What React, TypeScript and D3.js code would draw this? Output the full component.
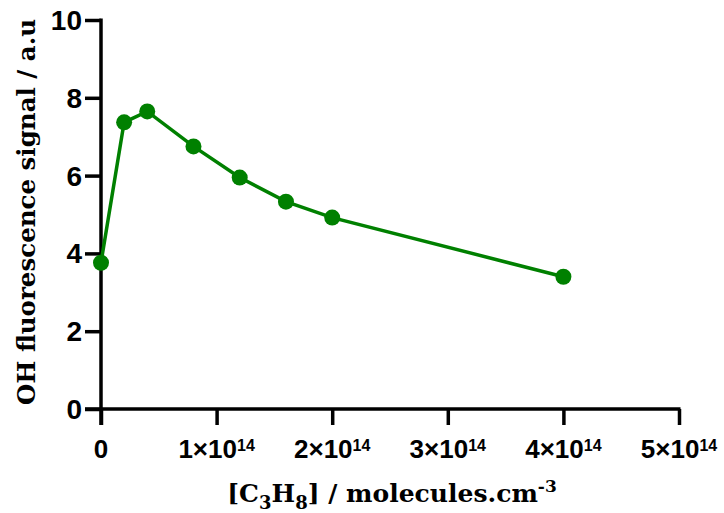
import { useEffect, useRef } from "react";
import * as d3 from "d3";

// [C3H8] in units of 1e14 molecules/cm3
const concentrations = [0, 0.2, 0.4, 0.8, 1.2, 1.6, 2.0, 4.0];
const signal = [3.76, 7.37, 7.65, 6.75, 5.95, 5.33, 4.92, 3.4];
const xTicks = [0, 1, 2, 3, 4, 5];
const yTicks = [0, 2, 4, 6, 8, 10];

const App = () => {
  const svgRef = useRef<SVGSVGElement>(null);

  useEffect(() => {
    if (!svgRef.current) return;
    const svg = d3.select(svgRef.current);
    svg.selectAll("*").remove();

    const x = d3.scaleLinear().domain([0, 5]).range([101, 679]);
    const y = d3.scaleLinear().domain([0, 10]).range([409, 20]);
    const tickFont = "Liberation Sans, Arial, sans-serif";

    const g = svg.append("g");

    // axes (labels drawn separately)
    const yAxis = g
      .append("g")
      .attr("transform", `translate(${x(0)},0)`)
      .call(d3.axisLeft(y).tickValues(yTicks).tickSize(16).tickSizeOuter(0).tickFormat(() => ""));
    const xAxis = g
      .append("g")
      .attr("transform", `translate(0,${y(0)})`)
      .call(d3.axisBottom(x).tickValues(xTicks).tickSize(16).tickSizeOuter(0).tickFormat(() => ""));

    [yAxis, xAxis].forEach((ax) => {
      ax.select(".domain").attr("stroke", "#000").attr("stroke-width", 3.5);
      ax.selectAll(".tick line").attr("stroke", "#000").attr("stroke-width", 3.5);
    });
    xAxis.select(".domain").attr("d", `M${x(0) - 16},0H${x(5) + 1.5}`);
    yAxis.select(".domain").attr("d", `M0,${y(10) - 1.5}V${y(0) + 16}`);

    // y tick labels
    g.selectAll("text.ytick")
      .data(yTicks)
      .join("text")
      .attr("class", "ytick")
      .attr("x", x(0) - 19)
      .attr("y", (d) => y(d) + 10)
      .attr("text-anchor", "end")
      .attr("font-family", tickFont)
      .attr("font-weight", "bold")
      .attr("font-size", 28)
      .attr("fill", "#000")
      .text((d) => d);

    // x tick labels with superscript
    xTicks.forEach((t) => {
      const txt = g
        .append("text")
        .attr("x", x(t))
        .attr("y", 458)
        .attr("text-anchor", "middle")
        .attr("font-family", tickFont)
        .attr("font-weight", "bold")
        .attr("font-size", 26)
        .attr("fill", "#000");
      if (t === 0) {
        txt.text("0");
      } else {
        txt.append("tspan").text(`${t}×10`);
        txt.append("tspan").attr("dy", -7).attr("font-size", 16).text("14");
      }
    });

    // line + points
    const pts = concentrations.map((c, i) => [c, signal[i]] as [number, number]);
    const line = d3
      .line<[number, number]>()
      .x((d) => x(d[0]))
      .y((d) => y(d[1]));
    g.append("path")
      .datum(pts)
      .attr("d", line)
      .attr("fill", "none")
      .attr("stroke", "#008000")
      .attr("stroke-width", 3.5);
    g.selectAll("circle.pt")
      .data(pts)
      .join("circle")
      .attr("class", "pt")
      .attr("cx", (d) => x(d[0]))
      .attr("cy", (d) => y(d[1]))
      .attr("r", 8)
      .attr("fill", "#008000");

    // axis titles
    const titleFont = "DejaVu Serif, serif";
    const xt = g
      .append("text")
      .attr("x", 392)
      .attr("y", 502)
      .attr("text-anchor", "middle")
      .attr("font-family", titleFont)
      .attr("font-weight", "bold")
      .attr("font-size", 25)
      .attr("fill", "#000");
    xt.append("tspan").text("[C");
    xt.append("tspan").attr("dy", 7).attr("font-size", 18).text("3");
    xt.append("tspan").attr("dy", -7).text("H");
    xt.append("tspan").attr("dy", 7).attr("font-size", 18).text("8");
    xt.append("tspan").attr("dy", -7).text("] / molecules.cm");
    xt.append("tspan").attr("dy", -10).attr("font-size", 17).text("-3");

    g.append("text")
      .attr("transform", `translate(35,212) rotate(-90)`)
      .attr("text-anchor", "middle")
      .attr("font-family", titleFont)
      .attr("font-weight", "bold")
      .attr("font-size", 24.5)
      .attr("fill", "#000")
      .text("OH fluorescence signal / a.u");
  }, []);

  return (
    <svg
      ref={svgRef}
      width={724}
      height={513}
      style={{ position: "absolute", left: 0, top: 0, background: "#fff" }}
    />
  );
};

export default App;
